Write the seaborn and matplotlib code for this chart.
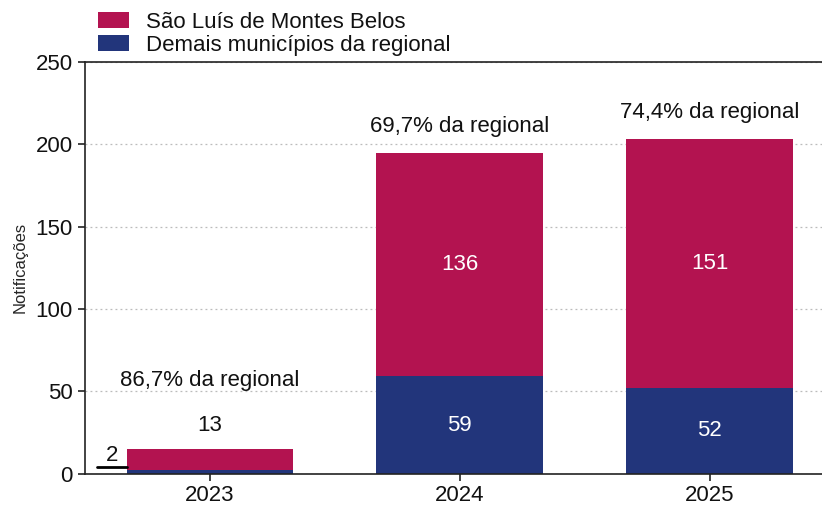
import pandas as pd
import matplotlib.pyplot as plt
import seaborn as sns

# Data
anos = ["2023", "2024", "2025"]
sao_luis = [13, 136, 151]
demais = [2, 59, 52]
percentual = ["86,7% da regional", "69,7% da regional", "74,4% da regional"]

cor_sl = "#B31350"
cor_demais = "#22357B"

df = pd.DataFrame({"Ano": anos, "SaoLuis": sao_luis, "Demais": demais})
df["Total"] = df["SaoLuis"] + df["Demais"]

sns.set_style("white")
plt.rcParams["font.family"] = ["Liberation Sans", "DejaVu Sans"]
plt.rcParams["text.color"] = "#111111"
plt.rcParams["xtick.color"] = "#111111"
plt.rcParams["ytick.color"] = "#111111"

fig = plt.figure(figsize=(8.22, 5.12), dpi=100)
ax = fig.add_axes([0.103, 0.075, 0.897, 0.804])

# stacked bars: total first (magenta), then the bottom part (blue)
sns.barplot(data=df, x="Ano", y="Total", color=cor_sl, width=0.665,
            saturation=1, ax=ax, label="São Luís de Montes Belos",
            linewidth=0)
sns.barplot(data=df, x="Ano", y="Demais", color=cor_demais, width=0.665,
            saturation=1, ax=ax, label="Demais municípios da regional",
            linewidth=0)

ax.set_ylim(0, 250)
ax.set_xlim(-0.5, 2.45)
ax.set_yticks([0, 50, 100, 150, 200, 250])
ax.yaxis.grid(True, linestyle=(0, (1.5, 2.5)), color="#bbbbbb", linewidth=0.9)
ax.set_axisbelow(True)
for s in ["left", "bottom", "top"]:
    ax.spines[s].set_color("#222222")
    ax.spines[s].set_linewidth(1.2)
ax.spines["right"].set_visible(False)
ax.tick_params(axis="both", labelsize=16, length=5, width=1.2,
               direction="out", left=True, bottom=True, color="#222222")
ax.set_xlabel("")
ax.set_ylabel("Notificações", fontsize=12, labelpad=6)

fs = 16
# labels inside bars
for i in [1, 2]:
    ax.text(i, demais[i] / 2, str(demais[i]), ha="center", va="center",
            color="white", fontsize=fs)
    ax.text(i, demais[i] + sao_luis[i] / 2, str(sao_luis[i]), ha="center",
            va="center", color="white", fontsize=fs)

# 2023 labels outside the small bar
ax.text(0, 29.5, str(sao_luis[0]), ha="center", va="center", fontsize=fs)
ax.plot([-0.45, -0.33], [4, 4], color="black", linewidth=2, clip_on=False)
ax.text(-0.39, 4.5, str(demais[0]), ha="center", va="bottom", fontsize=fs)

# share of the region above each bar
ypos = [56.5, 210.5, 219]
for i in range(3):
    ax.text(i, ypos[i], percentual[i], ha="center", va="center", fontsize=fs)

ax.legend(loc="lower left", bbox_to_anchor=(0.015, 1.01), frameon=False,
          fontsize=16, handlelength=1.4, handleheight=0.75, labelspacing=0.08,
          borderpad=0.1, borderaxespad=0.0, handletextpad=0.75)

fig.savefig("out.png", dpi=100)
